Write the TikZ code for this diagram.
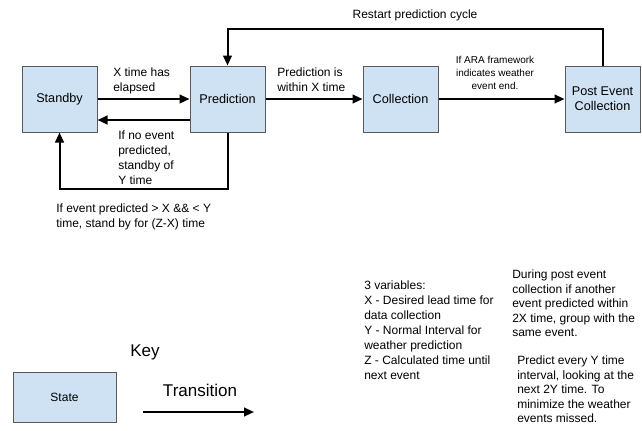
\documentclass[tikz,border=0pt]{standalone}
\usepackage{fontspec}
\setmainfont{Liberation Sans}
\usetikzlibrary{arrows.meta}
\definecolor{stateblue}{HTML}{CFE2F3}
\definecolor{stateedge}{HTML}{595959}
\tikzset{
  statebox/.style={draw=stateedge,fill=stateblue,line width=0.75pt,inner sep=0pt,
    minimum width=56.25pt,minimum height=49.5pt,align=center,
    font=\fontsize{9.5}{11.25}\selectfont},
  trans/.style={-{Triangle[length=7.5pt,width=6.5pt]},line width=1.5pt},
  lbl/.style={anchor=north west,align=left,inner sep=0pt,font=\fontsize{9}{11.25}\selectfont},
  note/.style={anchor=north west,align=left,inner sep=0pt,font=\fontsize{9}{10.9}\selectfont}
}

\begin{document}
\begin{tikzpicture}[x=0.75pt,y=-0.75pt]
      \useasboundingbox (0,0) rectangle (642,430);
      \node[statebox] (standby) at (59.5,99) {Standby};
      \node[statebox] (prediction) at (227.5,99) {Prediction};
      \node[statebox] (collection) at (400.5,99) {Collection};
      \node[statebox] (post) at (602.5,99) {Post Event\\Collection};
      \coordinate (restart) at (415,29);
      \coordinate (waitloop) at (144,189);
      \draw[trans] (standby.east) -- (prediction.west);
      \draw[trans] ([yshift=-15.75pt]prediction.west) -- ([yshift=-15.75pt]standby.east);
      \draw[trans] (prediction.east) -- (collection.west);
      \draw[trans] (collection.east) -- (post.west);
      \draw[trans] (post.north) |- (restart) -| (prediction.north);
      \draw[trans] (prediction.south) |- (waitloop) -| (standby.south);
      \node[font=\fontsize{9}{11.25}\selectfont] (restartlbl) at (415,15.5) {Restart prediction cycle};
      \node[lbl] (elapsedlbl) at (113,67.5) {X time has\\elapsed};
      \node[lbl] (withinlbl) at (277,67.5) {Prediction is\\within X time};
      \node[lbl] (noeventlbl) at (118,130.5) {If no event\\predicted,\\standby of\\Y time};
      \node[lbl] (eventlbl) at (56,203.5) {If event predicted > X \&\& < Y\\time, stand by for (Z-X) time};
      \node[anchor=north,align=center,inner sep=0pt,font=\fontsize{7.5}{9.5}\selectfont] (aralbl) at (495,56.3)
        {If ARA framework\\indicates weather\\event end.};
      \node[lbl] (varlbl) at (364,280.5) {3 variables:\\X - Desired lead time for\\data collection\\Y - Normal Interval for\\weather prediction\\Z - Calculated time until\\next event};
      \node[note] (grouplbl) at (512,269.5) {During post event\\collection if another\\event predicted within\\2X time, group with the\\same event.};
      \node[note] (intervallbl) at (517,355.5) {Predict every Y time\\interval, looking at the\\next 2Y time. To\\minimize the weather\\events missed.};
      \node[font=\fontsize{12.75}{15}\selectfont] (key) at (145,352) {Key};
      \node[statebox,minimum width=77.25pt,minimum height=37.5pt,font=\fontsize{9}{11}\selectfont] (keystate) at (64.5,397) {State};
      \node[font=\fontsize{12.75}{15}\selectfont] (keytranslbl) at (200,390) {Transition};
      \coordinate (keyfrom) at (143,412);
      \coordinate (keyto) at (254,412);
      \draw[trans] (keyfrom) -- (keyto);
\end{tikzpicture}
\end{document}
